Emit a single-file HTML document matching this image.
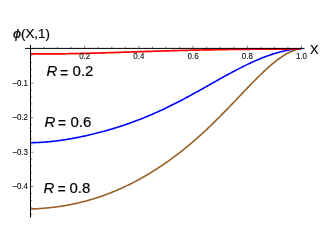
<!DOCTYPE html><html><head><meta charset="utf-8"><style>html,body{margin:0;padding:0;background:#fff;}svg{display:block;will-change:transform;}text{font-family:"Liberation Sans",sans-serif;stroke:#000;stroke-width:0.2px;}</style></head><body>
<svg width="327" height="245" viewBox="0 0 327 245">
<rect width="327" height="245" fill="#fff"/>
<path d="M31.00,209.00 L32.00,208.96 L33.00,208.92 L34.00,208.88 L35.00,208.83 L36.00,208.78 L37.00,208.73 L38.00,208.67 L39.00,208.61 L40.00,208.54 L41.00,208.47 L42.00,208.40 L43.00,208.32 L44.00,208.24 L45.00,208.16 L46.00,208.07 L47.00,207.98 L48.00,207.88 L49.00,207.78 L50.00,207.67 L51.00,207.56 L52.00,207.45 L53.00,207.33 L54.00,207.21 L55.00,207.09 L56.00,206.96 L57.00,206.82 L58.00,206.68 L59.00,206.54 L60.00,206.39 L61.00,206.24 L62.00,206.09 L63.00,205.92 L64.00,205.76 L65.00,205.59 L66.00,205.42 L67.00,205.24 L68.00,205.06 L69.00,204.87 L70.00,204.68 L71.00,204.48 L72.00,204.28 L73.00,204.07 L74.00,203.86 L75.00,203.65 L76.00,203.43 L77.00,203.20 L78.00,202.98 L79.00,202.74 L80.00,202.50 L81.00,202.26 L82.00,202.01 L83.00,201.76 L84.00,201.50 L85.00,201.24 L86.00,200.97 L87.00,200.70 L88.00,200.42 L89.00,200.14 L90.00,199.85 L91.00,199.56 L92.00,199.26 L93.00,198.96 L94.00,198.66 L95.00,198.34 L96.00,198.03 L97.00,197.70 L98.00,197.38 L99.00,197.05 L100.00,196.71 L101.00,196.37 L102.00,196.02 L103.00,195.67 L104.00,195.31 L105.00,194.95 L106.00,194.58 L107.00,194.21 L108.00,193.83 L109.00,193.44 L110.00,193.06 L111.00,192.66 L112.00,192.26 L113.00,191.86 L114.00,191.45 L115.00,191.04 L116.00,190.62 L117.00,190.19 L118.00,189.76 L119.00,189.32 L120.00,188.88 L121.00,188.44 L122.00,187.98 L123.00,187.53 L124.00,187.06 L125.00,186.60 L126.00,186.12 L127.00,185.65 L128.00,185.16 L129.00,184.67 L130.00,184.18 L131.00,183.68 L132.00,183.17 L133.00,182.66 L134.00,182.15 L135.00,181.62 L136.00,181.10 L137.00,180.56 L138.00,180.03 L139.00,179.48 L140.00,178.93 L141.00,178.38 L142.00,177.82 L143.00,177.25 L144.00,176.68 L145.00,176.11 L146.00,175.52 L147.00,174.94 L148.00,174.34 L149.00,173.75 L150.00,173.14 L151.00,172.53 L152.00,171.92 L153.00,171.30 L154.00,170.67 L155.00,170.04 L156.00,169.40 L157.00,168.76 L158.00,168.11 L159.00,167.45 L160.00,166.79 L161.00,166.13 L162.00,165.45 L163.00,164.78 L164.00,164.09 L165.00,163.41 L166.00,162.71 L167.00,162.01 L168.00,161.30 L169.00,160.59 L170.00,159.87 L171.00,159.15 L172.00,158.42 L173.00,157.69 L174.00,156.94 L175.00,156.20 L176.00,155.44 L177.00,154.69 L178.00,153.92 L179.00,153.15 L180.00,152.37 L181.00,151.59 L182.00,150.80 L183.00,150.01 L184.00,149.21 L185.00,148.40 L186.00,147.59 L187.00,146.77 L188.00,145.94 L189.00,145.11 L190.00,144.27 L191.00,143.43 L192.00,142.58 L193.00,141.73 L194.00,140.86 L195.00,140.00 L196.00,139.12 L197.00,138.24 L198.00,137.36 L199.00,136.46 L200.00,135.57 L201.00,134.66 L202.00,133.75 L203.00,132.84 L204.00,131.91 L205.00,130.99 L206.00,130.05 L207.00,129.11 L208.00,128.17 L209.00,127.22 L210.00,126.27 L211.00,125.31 L212.00,124.34 L213.00,123.37 L214.00,122.39 L215.00,121.41 L216.00,120.43 L217.00,119.44 L218.00,118.44 L219.00,117.45 L220.00,116.44 L221.00,115.44 L222.00,114.42 L223.00,113.41 L224.00,112.39 L225.00,111.37 L226.00,110.34 L227.00,109.32 L228.00,108.28 L229.00,107.25 L230.00,106.21 L231.00,105.17 L232.00,104.13 L233.00,103.09 L234.00,102.04 L235.00,101.00 L236.00,99.95 L237.00,98.90 L238.00,97.85 L239.00,96.80 L240.00,95.75 L241.00,94.70 L242.00,93.65 L243.00,92.60 L244.00,91.55 L245.00,90.51 L246.00,89.46 L247.00,88.42 L248.00,87.38 L249.00,86.34 L250.00,85.30 L251.00,84.27 L252.00,83.25 L253.00,82.22 L254.00,81.20 L255.00,80.19 L256.00,79.18 L257.00,78.18 L258.00,77.19 L259.00,76.20 L260.00,75.22 L261.00,74.25 L262.00,73.29 L263.00,72.33 L264.00,71.39 L265.00,70.45 L266.00,69.53 L267.00,68.61 L268.00,67.71 L269.00,66.82 L270.00,65.94 L271.00,65.08 L272.00,64.23 L273.00,63.40 L274.00,62.58 L275.00,61.77 L276.00,60.98 L277.00,60.21 L278.00,59.46 L279.00,58.73 L280.00,58.01 L281.00,57.31 L282.00,56.64 L283.00,55.98 L284.00,55.35 L285.00,54.74 L286.00,54.16 L287.00,53.59 L288.00,53.06 L289.00,52.54 L290.00,52.06 L291.00,51.60 L292.00,51.17 L293.00,50.76 L294.00,50.39 L295.00,50.05 L296.00,49.74 L297.00,49.45 L298.00,49.21 L299.00,48.99 L300.00,48.81 L301.00,48.67 L301.30,48.63" fill="none" stroke="#9a5f26" stroke-width="1.6" stroke-linejoin="round"/>
<path d="M31.00,142.69 L32.00,142.68 L33.00,142.66 L34.00,142.63 L35.00,142.60 L36.00,142.57 L37.00,142.53 L38.00,142.49 L39.00,142.44 L40.00,142.39 L41.00,142.33 L42.00,142.27 L43.00,142.20 L44.00,142.13 L45.00,142.05 L46.00,141.97 L47.00,141.89 L48.00,141.80 L49.00,141.71 L50.00,141.61 L51.00,141.51 L52.00,141.41 L53.00,141.30 L54.00,141.18 L55.00,141.07 L56.00,140.95 L57.00,140.82 L58.00,140.69 L59.00,140.56 L60.00,140.43 L61.00,140.29 L62.00,140.14 L63.00,140.00 L64.00,139.85 L65.00,139.69 L66.00,139.54 L67.00,139.38 L68.00,139.21 L69.00,139.05 L70.00,138.88 L71.00,138.70 L72.00,138.53 L73.00,138.34 L74.00,138.16 L75.00,137.97 L76.00,137.78 L77.00,137.59 L78.00,137.40 L79.00,137.20 L80.00,136.99 L81.00,136.79 L82.00,136.58 L83.00,136.37 L84.00,136.15 L85.00,135.93 L86.00,135.71 L87.00,135.49 L88.00,135.26 L89.00,135.03 L90.00,134.80 L91.00,134.57 L92.00,134.33 L93.00,134.09 L94.00,133.84 L95.00,133.59 L96.00,133.34 L97.00,133.09 L98.00,132.83 L99.00,132.58 L100.00,132.31 L101.00,132.05 L102.00,131.78 L103.00,131.51 L104.00,131.24 L105.00,130.96 L106.00,130.68 L107.00,130.40 L108.00,130.11 L109.00,129.83 L110.00,129.53 L111.00,129.24 L112.00,128.94 L113.00,128.64 L114.00,128.34 L115.00,128.03 L116.00,127.72 L117.00,127.41 L118.00,127.10 L119.00,126.78 L120.00,126.46 L121.00,126.13 L122.00,125.81 L123.00,125.47 L124.00,125.14 L125.00,124.80 L126.00,124.46 L127.00,124.12 L128.00,123.77 L129.00,123.42 L130.00,123.07 L131.00,122.71 L132.00,122.35 L133.00,121.99 L134.00,121.62 L135.00,121.25 L136.00,120.87 L137.00,120.50 L138.00,120.11 L139.00,119.73 L140.00,119.34 L141.00,118.95 L142.00,118.55 L143.00,118.15 L144.00,117.75 L145.00,117.34 L146.00,116.93 L147.00,116.52 L148.00,116.10 L149.00,115.68 L150.00,115.26 L151.00,114.83 L152.00,114.40 L153.00,113.97 L154.00,113.53 L155.00,113.09 L156.00,112.64 L157.00,112.19 L158.00,111.74 L159.00,111.28 L160.00,110.83 L161.00,110.36 L162.00,109.90 L163.00,109.43 L164.00,108.96 L165.00,108.48 L166.00,108.00 L167.00,107.52 L168.00,107.03 L169.00,106.55 L170.00,106.05 L171.00,105.56 L172.00,105.06 L173.00,104.56 L174.00,104.06 L175.00,103.55 L176.00,103.04 L177.00,102.53 L178.00,102.02 L179.00,101.50 L180.00,100.98 L181.00,100.46 L182.00,99.93 L183.00,99.41 L184.00,98.88 L185.00,98.34 L186.00,97.81 L187.00,97.27 L188.00,96.73 L189.00,96.19 L190.00,95.65 L191.00,95.11 L192.00,94.56 L193.00,94.01 L194.00,93.46 L195.00,92.91 L196.00,92.36 L197.00,91.80 L198.00,91.25 L199.00,90.69 L200.00,90.13 L201.00,89.58 L202.00,89.02 L203.00,88.45 L204.00,87.89 L205.00,87.33 L206.00,86.77 L207.00,86.21 L208.00,85.64 L209.00,85.08 L210.00,84.51 L211.00,83.95 L212.00,83.39 L213.00,82.82 L214.00,82.26 L215.00,81.69 L216.00,81.13 L217.00,80.57 L218.00,80.01 L219.00,79.45 L220.00,78.89 L221.00,78.33 L222.00,77.77 L223.00,77.22 L224.00,76.66 L225.00,76.11 L226.00,75.56 L227.00,75.01 L228.00,74.46 L229.00,73.92 L230.00,73.38 L231.00,72.83 L232.00,72.30 L233.00,71.76 L234.00,71.23 L235.00,70.70 L236.00,70.18 L237.00,69.65 L238.00,69.13 L239.00,68.62 L240.00,68.11 L241.00,67.60 L242.00,67.09 L243.00,66.59 L244.00,66.10 L245.00,65.60 L246.00,65.12 L247.00,64.63 L248.00,64.15 L249.00,63.68 L250.00,63.21 L251.00,62.75 L252.00,62.29 L253.00,61.84 L254.00,61.39 L255.00,60.94 L256.00,60.51 L257.00,60.08 L258.00,59.65 L259.00,59.23 L260.00,58.82 L261.00,58.41 L262.00,58.01 L263.00,57.62 L264.00,57.23 L265.00,56.85 L266.00,56.47 L267.00,56.10 L268.00,55.74 L269.00,55.39 L270.00,55.04 L271.00,54.70 L272.00,54.37 L273.00,54.05 L274.00,53.73 L275.00,53.42 L276.00,53.12 L277.00,52.83 L278.00,52.54 L279.00,52.26 L280.00,51.99 L281.00,51.73 L282.00,51.48 L283.00,51.24 L284.00,51.00 L285.00,50.78 L286.00,50.56 L287.00,50.35 L288.00,50.15 L289.00,49.96 L290.00,49.78 L291.00,49.62 L292.00,49.46 L293.00,49.32 L294.00,49.18 L295.00,49.06 L296.00,48.96 L297.00,48.86 L298.00,48.79 L299.00,48.72 L300.00,48.68 L301.00,48.65 L301.30,48.64" fill="none" stroke="#0000ff" stroke-width="1.6" stroke-linejoin="round"/>
<path d="M31.00,53.89 L32.00,53.90 L33.00,53.91 L34.00,53.92 L35.00,53.93 L36.00,53.93 L37.00,53.94 L38.00,53.95 L39.00,53.95 L40.00,53.96 L41.00,53.96 L42.00,53.96 L43.00,53.96 L44.00,53.96 L45.00,53.96 L46.00,53.96 L47.00,53.96 L48.00,53.95 L49.00,53.95 L50.00,53.94 L51.00,53.94 L52.00,53.93 L53.00,53.93 L54.00,53.92 L55.00,53.91 L56.00,53.90 L57.00,53.89 L58.00,53.88 L59.00,53.87 L60.00,53.86 L61.00,53.84 L62.00,53.83 L63.00,53.82 L64.00,53.80 L65.00,53.79 L66.00,53.77 L67.00,53.75 L68.00,53.74 L69.00,53.72 L70.00,53.70 L71.00,53.68 L72.00,53.66 L73.00,53.64 L74.00,53.62 L75.00,53.60 L76.00,53.58 L77.00,53.56 L78.00,53.54 L79.00,53.52 L80.00,53.49 L81.00,53.47 L82.00,53.45 L83.00,53.42 L84.00,53.40 L85.00,53.37 L86.00,53.35 L87.00,53.32 L88.00,53.30 L89.00,53.27 L90.00,53.25 L91.00,53.22 L92.00,53.19 L93.00,53.16 L94.00,53.14 L95.00,53.11 L96.00,53.08 L97.00,53.05 L98.00,53.02 L99.00,52.99 L100.00,52.96 L101.00,52.93 L102.00,52.90 L103.00,52.87 L104.00,52.84 L105.00,52.81 L106.00,52.78 L107.00,52.75 L108.00,52.72 L109.00,52.69 L110.00,52.66 L111.00,52.63 L112.00,52.60 L113.00,52.56 L114.00,52.53 L115.00,52.50 L116.00,52.47 L117.00,52.44 L118.00,52.40 L119.00,52.37 L120.00,52.34 L121.00,52.31 L122.00,52.27 L123.00,52.24 L124.00,52.21 L125.00,52.18 L126.00,52.14 L127.00,52.11 L128.00,52.08 L129.00,52.05 L130.00,52.01 L131.00,51.98 L132.00,51.95 L133.00,51.92 L134.00,51.88 L135.00,51.85 L136.00,51.82 L137.00,51.79 L138.00,51.75 L139.00,51.72 L140.00,51.69 L141.00,51.66 L142.00,51.62 L143.00,51.59 L144.00,51.56 L145.00,51.53 L146.00,51.50 L147.00,51.46 L148.00,51.43 L149.00,51.40 L150.00,51.37 L151.00,51.34 L152.00,51.31 L153.00,51.27 L154.00,51.24 L155.00,51.21 L156.00,51.18 L157.00,51.15 L158.00,51.12 L159.00,51.09 L160.00,51.06 L161.00,51.03 L162.00,51.00 L163.00,50.97 L164.00,50.94 L165.00,50.91 L166.00,50.88 L167.00,50.85 L168.00,50.82 L169.00,50.80 L170.00,50.77 L171.00,50.74 L172.00,50.71 L173.00,50.68 L174.00,50.66 L175.00,50.63 L176.00,50.60 L177.00,50.57 L178.00,50.55 L179.00,50.52 L180.00,50.50 L181.00,50.47 L182.00,50.44 L183.00,50.42 L184.00,50.39 L185.00,50.37 L186.00,50.34 L187.00,50.32 L188.00,50.29 L189.00,50.27 L190.00,50.24 L191.00,50.22 L192.00,50.20 L193.00,50.17 L194.00,50.15 L195.00,50.13 L196.00,50.11 L197.00,50.08 L198.00,50.06 L199.00,50.04 L200.00,50.02 L201.00,50.00 L202.00,49.98 L203.00,49.96 L204.00,49.94 L205.00,49.92 L206.00,49.90 L207.00,49.88 L208.00,49.86 L209.00,49.84 L210.00,49.82 L211.00,49.80 L212.00,49.78 L213.00,49.76 L214.00,49.75 L215.00,49.73 L216.00,49.71 L217.00,49.69 L218.00,49.68 L219.00,49.66 L220.00,49.64 L221.00,49.63 L222.00,49.61 L223.00,49.60 L224.00,49.58 L225.00,49.57 L226.00,49.55 L227.00,49.54 L228.00,49.52 L229.00,49.51 L230.00,49.50 L231.00,49.48 L232.00,49.47 L233.00,49.46 L234.00,49.44 L235.00,49.43 L236.00,49.42 L237.00,49.41 L238.00,49.40 L239.00,49.38 L240.00,49.37 L241.00,49.36 L242.00,49.35 L243.00,49.34 L244.00,49.33 L245.00,49.32 L246.00,49.31 L247.00,49.30 L248.00,49.29 L249.00,49.28 L250.00,49.27 L251.00,49.26 L252.00,49.25 L253.00,49.24 L254.00,49.24 L255.00,49.23 L256.00,49.22 L257.00,49.21 L258.00,49.20 L259.00,49.20 L260.00,49.19 L261.00,49.18 L262.00,49.17 L263.00,49.17 L264.00,49.16 L265.00,49.15 L266.00,49.15 L267.00,49.14 L268.00,49.13 L269.00,49.13 L270.00,49.12 L271.00,49.12 L272.00,49.11 L273.00,49.11 L274.00,49.10 L275.00,49.09 L276.00,49.09 L277.00,49.08 L278.00,49.08 L279.00,49.07 L280.00,49.07 L281.00,49.06 L282.00,49.06 L283.00,49.05 L284.00,49.05 L285.00,49.04 L286.00,49.04 L287.00,49.03 L288.00,49.03 L289.00,49.02 L290.00,49.02 L291.00,49.02 L292.00,49.01 L293.00,49.01 L294.00,49.00 L295.00,49.00 L296.00,48.99 L297.00,48.99 L298.00,48.98 L299.00,48.98 L300.00,48.97 L300.50,48.97" fill="none" stroke="#ff0000" stroke-width="1.7" stroke-linejoin="round"/>
<g stroke="#000" stroke-width="1" fill="none">
<line x1="25" y1="48.4" x2="304.5" y2="48.4"/>
<line x1="30.5" y1="45" x2="30.5" y2="217.6"/>
</g>
<g stroke="#000" stroke-width="0.45" fill="none">
<line x1="30.50" y1="48.4" x2="30.50" y2="45.50"/>
<line x1="44.05" y1="48.4" x2="44.05" y2="46.60"/>
<line x1="57.60" y1="48.4" x2="57.60" y2="46.60"/>
<line x1="71.15" y1="48.4" x2="71.15" y2="46.60"/>
<line x1="84.70" y1="48.4" x2="84.70" y2="45.50"/>
<line x1="98.25" y1="48.4" x2="98.25" y2="46.60"/>
<line x1="111.80" y1="48.4" x2="111.80" y2="46.60"/>
<line x1="125.35" y1="48.4" x2="125.35" y2="46.60"/>
<line x1="138.90" y1="48.4" x2="138.90" y2="45.50"/>
<line x1="152.45" y1="48.4" x2="152.45" y2="46.60"/>
<line x1="166.00" y1="48.4" x2="166.00" y2="46.60"/>
<line x1="179.55" y1="48.4" x2="179.55" y2="46.60"/>
<line x1="193.10" y1="48.4" x2="193.10" y2="45.50"/>
<line x1="206.65" y1="48.4" x2="206.65" y2="46.60"/>
<line x1="220.20" y1="48.4" x2="220.20" y2="46.60"/>
<line x1="233.75" y1="48.4" x2="233.75" y2="46.60"/>
<line x1="247.30" y1="48.4" x2="247.30" y2="45.50"/>
<line x1="260.85" y1="48.4" x2="260.85" y2="46.60"/>
<line x1="274.40" y1="48.4" x2="274.40" y2="46.60"/>
<line x1="287.95" y1="48.4" x2="287.95" y2="46.60"/>
<line x1="301.50" y1="48.4" x2="301.50" y2="45.50"/>
<line x1="30.5" y1="48.70" x2="33.40" y2="48.70"/>
<line x1="30.5" y1="55.60" x2="32.30" y2="55.60"/>
<line x1="30.5" y1="62.50" x2="32.30" y2="62.50"/>
<line x1="30.5" y1="69.40" x2="32.30" y2="69.40"/>
<line x1="30.5" y1="76.30" x2="32.30" y2="76.30"/>
<line x1="30.5" y1="83.20" x2="33.40" y2="83.20"/>
<line x1="30.5" y1="90.10" x2="32.30" y2="90.10"/>
<line x1="30.5" y1="97.00" x2="32.30" y2="97.00"/>
<line x1="30.5" y1="103.90" x2="32.30" y2="103.90"/>
<line x1="30.5" y1="110.80" x2="32.30" y2="110.80"/>
<line x1="30.5" y1="117.70" x2="33.40" y2="117.70"/>
<line x1="30.5" y1="124.60" x2="32.30" y2="124.60"/>
<line x1="30.5" y1="131.50" x2="32.30" y2="131.50"/>
<line x1="30.5" y1="138.40" x2="32.30" y2="138.40"/>
<line x1="30.5" y1="145.30" x2="32.30" y2="145.30"/>
<line x1="30.5" y1="152.20" x2="33.40" y2="152.20"/>
<line x1="30.5" y1="159.10" x2="32.30" y2="159.10"/>
<line x1="30.5" y1="166.00" x2="32.30" y2="166.00"/>
<line x1="30.5" y1="172.90" x2="32.30" y2="172.90"/>
<line x1="30.5" y1="179.80" x2="32.30" y2="179.80"/>
<line x1="30.5" y1="186.70" x2="33.40" y2="186.70"/>
<line x1="30.5" y1="193.60" x2="32.30" y2="193.60"/>
<line x1="30.5" y1="200.50" x2="32.30" y2="200.50"/>
<line x1="30.5" y1="207.40" x2="32.30" y2="207.40"/>
<line x1="30.5" y1="214.30" x2="32.30" y2="214.30"/>
</g>
<g font-size="8.0" fill="#000" style="stroke:#000;stroke-width:0.07px">
<text transform="translate(84.70,58.9) scale(1,1.1)" text-anchor="middle" style="stroke:#000;stroke-width:0.07px">0.2</text>
<text transform="translate(138.90,58.9) scale(1,1.1)" text-anchor="middle" style="stroke:#000;stroke-width:0.07px">0.4</text>
<text transform="translate(193.10,58.9) scale(1,1.1)" text-anchor="middle" style="stroke:#000;stroke-width:0.07px">0.6</text>
<text transform="translate(247.30,58.9) scale(1,1.1)" text-anchor="middle" style="stroke:#000;stroke-width:0.07px">0.8</text>
<text transform="translate(301.50,58.9) scale(1,1.1)" text-anchor="middle" style="stroke:#000;stroke-width:0.07px">1.0</text>
<text transform="translate(28,85.80) scale(1,1.1)" text-anchor="end" style="stroke:#000;stroke-width:0.07px">−0.1</text>
<text transform="translate(28,120.30) scale(1,1.1)" text-anchor="end" style="stroke:#000;stroke-width:0.07px">−0.2</text>
<text transform="translate(28,154.80) scale(1,1.1)" text-anchor="end" style="stroke:#000;stroke-width:0.07px">−0.3</text>
<text transform="translate(28,189.30) scale(1,1.1)" text-anchor="end" style="stroke:#000;stroke-width:0.07px">−0.4</text>
</g>
<text x="310" y="53.6" font-size="12.8">X</text>
<text transform="translate(12.9,38.2) scale(1.1,1)" font-size="13.3" font-style="italic" style="stroke-width:0.2px">ϕ</text>
<text x="21.0" y="38.2" font-size="13.3">(X,1)</text>
<text x="46.6" y="76.4" font-size="15" font-style="italic">R</text>
<text x="60.3" y="77.6" font-size="15" textLength="7.9" lengthAdjust="spacingAndGlyphs">=</text>
<text x="72.6" y="76.4" font-size="15">0.2</text>
<text x="44.5" y="126.9" font-size="15" font-style="italic">R</text>
<text x="58.0" y="128.1" font-size="15" textLength="7.9" lengthAdjust="spacingAndGlyphs">=</text>
<text x="70.4" y="126.9" font-size="15">0.6</text>
<text x="43.6" y="192.8" font-size="15" font-style="italic">R</text>
<text x="57.8" y="194.0" font-size="15" textLength="7.9" lengthAdjust="spacingAndGlyphs">=</text>
<text x="69.5" y="192.8" font-size="15">0.8</text>
</svg></body></html>
